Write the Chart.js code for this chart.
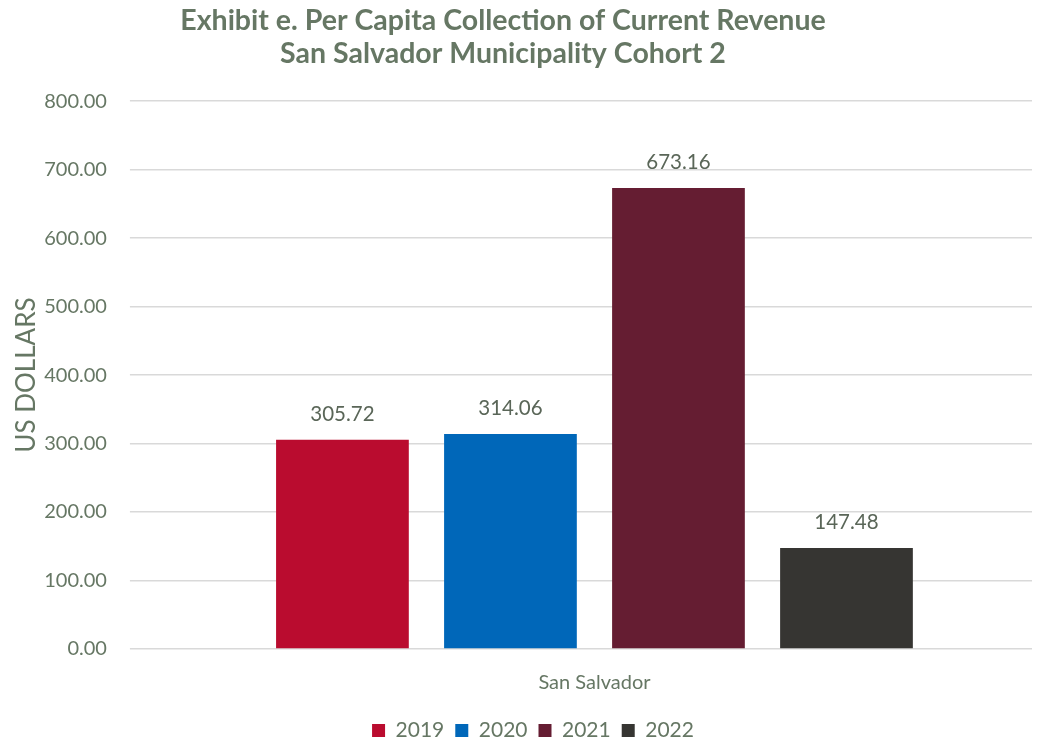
<!DOCTYPE html>
<html>
<head>
<meta charset="utf-8">
<script src="https://cdn.jsdelivr.net/npm/chart.js@4/dist/chart.umd.min.js"></script>
<style>
html,body{margin:0;padding:0;background:#fff;}
#wrap{width:1044px;height:742px;position:relative;}
</style>
</head>
<body>
<div id="wrap"><canvas id="c" width="1044" height="742"></canvas></div>
<script>
const categories = ["San Salvador"];
const seriesNames = ["2019", "2020", "2021", "2022"];
const values2019 = [305.72];
const values2020 = [314.06];
const values2021 = [673.16];
const values2022 = [147.48];
const seriesColors = ["#BA0C2F", "#0067B9", "#651D32", "#363532"];
const titleLines = ["Exhibit e. Per Capita Collection of Current Revenue", "San Salvador Municipality Cohort 2"];
const yAxisTitle = "US DOLLARS";

const textColor = "#667764";
const fontFam = "Lato, 'Open Sans', sans-serif";

const seriesValues = [values2019, values2020, values2021, values2022];

const dataLabelPlugin = {
  id: 'dataLabels',
  afterDatasetsDraw(chart) {
    const ctx = chart.ctx;
    ctx.save();
    ctx.font = "20.5px " + fontFam;
    ctx.fillStyle = "#5a6658";
    ctx.textAlign = "center";
    ctx.textBaseline = "bottom";
    chart.data.datasets.forEach((ds, i) => {
      const meta = chart.getDatasetMeta(i);
      meta.data.forEach((bar, j) => {
        ctx.fillText(ds.data[j].toFixed(2), bar.x, bar.y - 15);
      });
    });
    ctx.restore();
  }
};

// shift title and legend horizontally to match the original placement
const boxShiftPlugin = {
  id: 'boxShift',
  afterLayout(chart) {
    const tb = chart.titleBlock;
    if (tb) { tb.left -= 13; tb.right -= 13; }
    const lg = chart.legend;
    if (lg) { lg.left += 17; lg.right += 17; }
  }
};

new Chart(document.getElementById('c'), {
  type: 'bar',
  data: {
    labels: categories,
    datasets: seriesNames.map((n, i) => ({
      label: n,
      data: seriesValues[i],
      backgroundColor: seriesColors[i],
      borderWidth: 0,
      barPercentage: 0.79,
      categoryPercentage: 0.768
    }))
  },
  options: {
    responsive: false,
    animation: false,
    devicePixelRatio: 1,
    layout: { padding: { left: 0, right: 12, top: 4, bottom: -9 } },
    plugins: {
      title: {
        display: true,
        text: titleLines,
        color: textColor,
        font: { family: fontFam, size: 28.5, weight: 'bold', lineHeight: 1.16 },
        padding: { top: 0, bottom: 31 }
      },
      legend: {
        position: 'bottom',
        labels: {
          color: textColor,
          font: { family: fontFam, size: 21 },
          boxWidth: 13, boxHeight: 13,
          padding: 11
        }
      },
      tooltip: { enabled: false }
    },
    scales: {
      x: {
        grid: { display: false },
        border: { display: false },
        ticks: { color: textColor, font: { family: fontFam, size: 20 }, padding: 14 }
      },
      y: {
        min: 0, max: 800,
        ticks: {
          stepSize: 100,
          color: textColor,
          font: { family: fontFam, size: 20 },
          padding: 23,
          callback: v => Number(v).toFixed(2)
        },
        grid: { color: "#d9d9d9", lineWidth: 1.5, tickLength: 27, drawTicks: true },
        border: { display: false },
        title: {
          display: true,
          text: yAxisTitle,
          color: textColor,
          font: { family: fontFam, size: 26 },
          padding: { top: 11, bottom: -21 }
        }
      }
    }
  },
  plugins: [dataLabelPlugin, boxShiftPlugin]
});
</script>
</body>
</html>
